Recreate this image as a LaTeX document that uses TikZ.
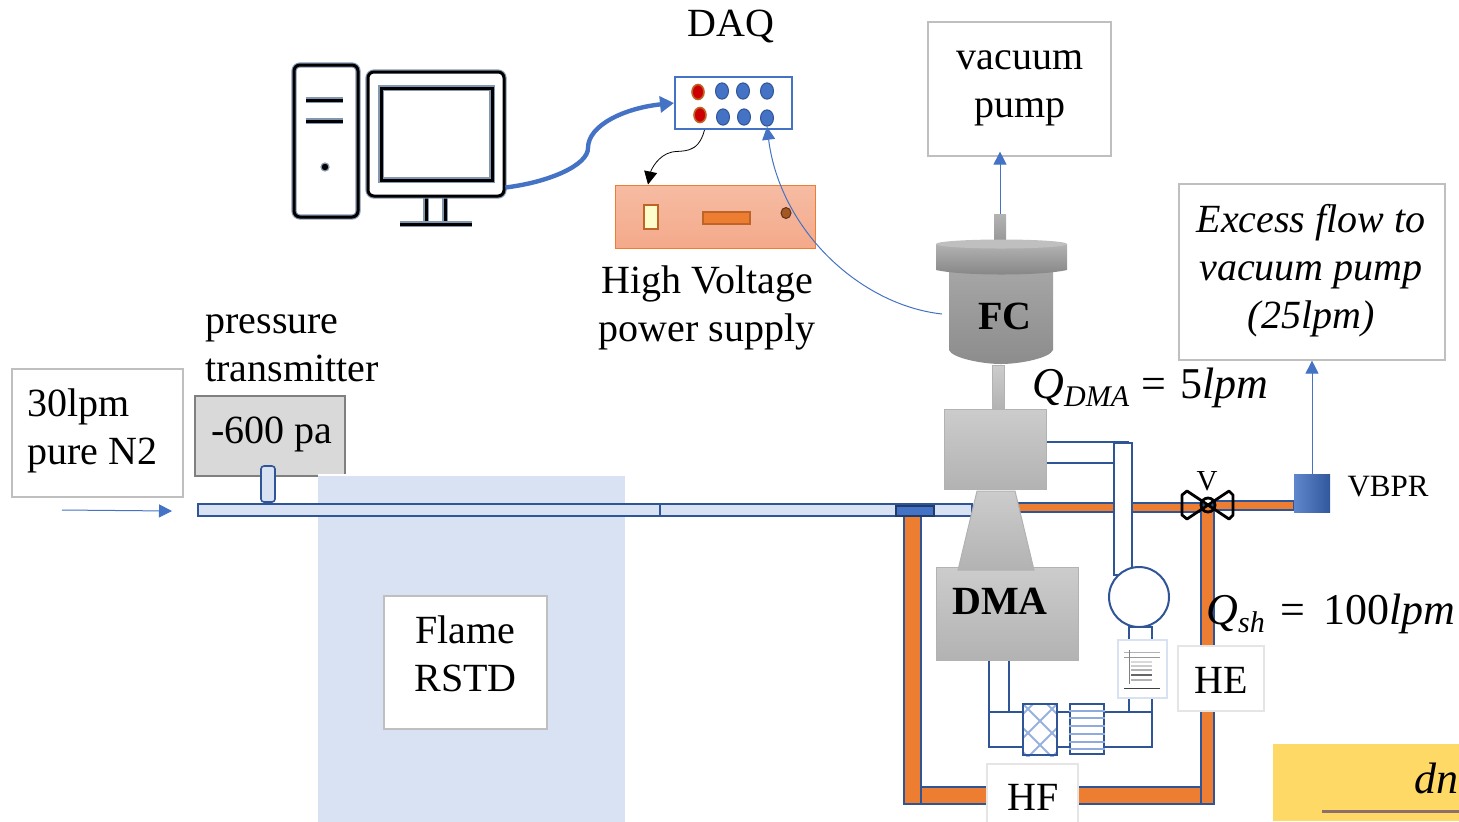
\documentclass[tikz,border=0pt]{standalone}
\usepackage{fontspec}
\setmainfont{Liberation Serif}
\usetikzlibrary{arrows.meta}
\definecolor{pipeblue}{HTML}{2F5597}
\definecolor{paleblue}{HTML}{D9E2F3}
\definecolor{flowblue}{HTML}{4472C4}
\definecolor{tubeorange}{HTML}{ED7D31}
\definecolor{halo}{HTML}{8497B0}
\definecolor{edgegray}{HTML}{BFBFBF}
\definecolor{panelyellow}{HTML}{FFD966}
\definecolor{barbrown}{HTML}{8F6F6A}
\definecolor{hvtop}{HTML}{F6BCA3}
\definecolor{hvbottom}{HTML}{F4A98A}
\newcommand{\flowsym}[1]{\textit{Q}\raisebox{-4pt}{\fontsize{15}{15}\selectfont\textit{#1}}}
\tikzset{
  txt/.style={font=\fontsize{20}{24}\selectfont, inner sep=0pt, align=center},
  flowtxt/.style={font=\fontsize{22}{24}\selectfont, inner sep=0pt, anchor=west},
  labelbox/.style={draw=edgegray, fill=white, line width=0.6pt, inner sep=0pt},
  palebox/.style={draw=black!10, fill=white, line width=0.6pt, inner sep=0pt},
  metal/.style={draw=black!30, line width=0.5pt, top color=black!20, bottom color=black!30},
  icon/.style={draw=black, rounded corners=3pt, line width=1.5pt, preaction={draw=halo, line width=2.6pt}},
  flow/.style={draw=flowblue, line width=0.5pt, -{Triangle[length=6.5pt,width=6.5pt]}},
  tube/.style={draw=pipeblue, fill=tubeorange, line width=1pt},
  pipe/.style={draw=pipeblue, fill=white, line width=1pt},
  lightpipe/.style={draw=pipeblue, fill=paleblue, line width=0.8pt},
  bluedot/.style={circle, draw=pipeblue, fill=flowblue, line width=0.5pt, inner sep=0pt, minimum width=6.5pt, yscale=1.25},
  reddot/.style={circle, draw=tubeorange!80!black, fill=red!80!black, line width=0.8pt, inner sep=0pt, minimum width=6pt, yscale=1.25},
}
\begin{document}
\begin{tikzpicture}[x=0.5pt, y=-0.5pt]
  \useasboundingbox (0,0) rectangle (1459,821);
  \clip (0,0) rectangle (1459,821);
  % flame background
  \node[fill=paleblue, draw=white, line width=1pt, inner sep=0pt, minimum width=154.5pt, minimum height=175pt] (flamebg) at (471.5,650) {};
  \node[labelbox, minimum width=81.5pt, minimum height=66.5pt] (flame) at (465.5,662.5) {};
  \node[txt] (flametext) at (465.5,654) {Flame\\RSTD};
  % computer
  \node[icon, minimum width=32pt, minimum height=76pt] (tower) at (326,141) {};
  \draw[icon] (306,100) -- (343,100);
  \draw[icon] (306,121) -- (343,121);
  \node[circle, fill=black, draw=halo, line width=0.6pt, inner sep=0pt, minimum width=4pt] (towerled) at (325,167) {};
  \draw[icon] (426,196) -- (426,224);
  \draw[icon] (445,196) -- (445,224);
  \draw[icon] (400,224) -- (472,224);
  \node[icon, fill=white, minimum width=68pt, minimum height=62pt] (monitor) at (436,134) {};
  \node[icon, rounded corners=0pt, minimum width=55.5pt, minimum height=46pt] (screen) at (436.5,134) {};
  % DAQ
  \node[txt] (daqtext) at (731,26) {DAQ};
  \node[draw=flowblue, fill=white, line width=1pt, inner sep=0pt, minimum width=58.5pt, minimum height=26pt] (daq) at (733.5,103) {};
  \foreach \x/\y in {698/92, 700/115}{
    \node[reddot] (r\x) at (\x,\y) {};
  }
  \foreach \x/\y in {722/91, 743/91, 767/91, 723/117, 744/117}{
    \node[bluedot] (b\x) at (\x,\y) {};
  }
  \node[bluedot] (port) at (767,118) {};
  % high voltage supply
  \node[draw=tubeorange, line width=0.5pt, top color=hvtop, bottom color=hvbottom, inner sep=0pt, minimum width=100pt, minimum height=31.5pt] (hv) at (715,216.5) {};
  \node[draw=tubeorange!80!black, fill=yellow!20, line width=1pt, inner sep=0pt, minimum width=7pt, minimum height=12pt] (hvswitch) at (651,217) {};
  \node[draw=tubeorange!80!black, fill=tubeorange, line width=1pt, inner sep=0pt, minimum width=23.5pt, minimum height=6pt] (hvpanel) at (726,218) {};
  \node[circle, draw=black!60!tubeorange, fill=tubeorange!70!black, line width=0.5pt, inner sep=0pt, minimum width=5pt, yscale=1.1] (hvknob) at (786,213) {};
  \node[txt] (hvtext) at (707,308) {High Voltage\\power supply};
  % inlet
  \node[labelbox, minimum width=85.5pt, minimum height=64pt] (inlet) at (97.5,433) {};
  \node[txt, align=left, anchor=west] (inlettext) at (27,431) {30lpm\\pure N2};
  \coordinate (flowstart) at (62,510);
  \coordinate (flowend) at (172,511);
  \draw[flow] (flowstart) -- (flowend);
  \node[txt, align=left, anchor=west] (ptext) at (205,348) {pressure\\transmitter};
  \node[draw=black!50, fill=black!15, line width=1pt, inner sep=0pt, minimum width=75pt, minimum height=40pt] (gauge) at (270,436) {};
  \node[txt] (gaugetext) at (272,434) {-600 pa};
  \fill[paleblue] (318,476) rectangle (347,478);
  \draw[white, line width=1pt] (318,475) -- (347,475);
  \node[draw=pipeblue, fill=paleblue, rounded corners=1.5pt, line width=0.8pt, inner sep=0pt, minimum width=7pt, minimum height=18pt] (stub) at (268,484) {};
  \node[lightpipe, inner sep=0pt, minimum width=231pt, minimum height=6pt] (pipeleft) at (429,510) {};
  % orange sheath loop
  \draw[tube] (904,516) rectangle (921,804);
  \draw[tube] (921,787) rectangle (1201,804);
  \draw[tube] (1201,505) rectangle (1214,804);
  \draw[tube] (1018,503) rectangle (1201,512);
  \draw[tube] (1214,501) rectangle (1294,510);
  \node[lightpipe, inner sep=0pt, minimum width=156pt, minimum height=6pt] (piperight) at (816,510) {};
  \node[draw=pipeblue!70!black, fill=flowblue, line width=1pt, inner sep=0pt, minimum width=19pt, minimum height=5pt] (tee) at (914.5,510.5) {};
  % excess flow branch
  \draw[pipe] (1046,442) rectangle (1114,463);
  \draw[pipe] (1114,443) rectangle (1132,575);
  \draw[draw=pipeblue, line width=1pt] (1114,442) -- (1129,442);
  \node[circle, pipe, inner sep=0pt, minimum width=30pt] (pumpball) at (1139,597) {};
  \draw[pipe] (1129,627) rectangle (1152,712);
  \draw[pipe] (989,660) rectangle (1009,712);
  \draw[pipe] (989,712) rectangle (1152,747);
  \draw[draw=pipeblue, line width=1.4pt] (1128,747) -- (1152,747) -- (1152,712);
  \node[draw=pipeblue, fill=white, line width=1pt, inner sep=0pt, minimum width=17pt, minimum height=25.5pt] (hepafilter) at (1040,729.5) {};
  \begin{scope}
    \clip (hepafilter.south west) rectangle (hepafilter.north east);
    \foreach \s in {-48, -24, 0, 24, 48}{
      \draw[flowblue!55, line width=1pt] (1023,704+\s) -- (1057,738+\s);
      \draw[flowblue!55, line width=1pt] (1057,704+\s) -- (1023,738+\s);
    }
  \end{scope}
  \node[draw=pipeblue, line width=1pt, inner sep=0pt, minimum width=17pt, minimum height=25.5pt] (hepaedge) at (1040,729.5) {};
  \node[draw=pipeblue, fill=white, line width=1pt, inner sep=0pt, minimum width=17pt, minimum height=25pt] (coalfilter) at (1087,729) {};
  \foreach \y in {711, 718, 726, 734, 742, 749}{
    \draw[flowblue!60, line width=1pt] (coalfilter.west |- 0,\y) -- (coalfilter.east |- 0,\y);
  }
  % flowmeter sheet
  \node[draw=paleblue, fill=white, line width=0.6pt, inner sep=0pt, minimum width=24.5pt, minimum height=29pt] (sheet) at (1142.5,669) {};
  \draw[black!30, line width=0.5pt] (1124,652) -- (1160,652);
  \draw[black!40, line width=0.5pt] (1124,657) -- (1160,657);
  \draw[black!50, line width=0.5pt] (1129,650) -- (1129,684);
  \foreach \y/\s in {662/15, 666/20, 670/30, 675/60, 680/30}{
    \draw[black!\s, line width=0.6pt] (1131,\y) -- (1152,\y);
  }
  \draw[black!75, line width=0.5pt] (1124,688) -- (1160,688);
  % DMA column and classifier
  \node[metal, inner sep=0pt, minimum width=6pt, minimum height=22pt] (neck) at (998,387) {};
  \node[metal, inner sep=0pt, minimum width=51pt, minimum height=40pt] (head) at (995,449) {};
  \node[metal, inner sep=0pt, minimum width=71pt, minimum height=46.5pt] (dma) at (1007,613.5) {};
  \draw[metal] (977,491) -- (1015,491) -- (1034,570) -- (958,570) -- cycle;
  \node[font=\fontsize{20}{24}\selectfont\bfseries, inner sep=0pt] (dmatext) at (1000,601) {DMA};
  % flow counter
  \node[metal, draw=none, top color=black!30, bottom color=black!40, inner sep=0pt, minimum width=6pt, minimum height=13pt] (fcstem) at (1000,227) {};
  \draw[draw=none, top color=black!35, bottom color=black!45] (949,270) -- (1053,270) -- (1053,350) .. controls (1050,358) and (1020,364) .. (1001,364) .. controls (982,364) and (952,358) .. (949,350) -- cycle;
  \draw[draw=none, top color=black!30, bottom color=black!48] (936,244) -- (1067,244) -- (1067,270) .. controls (1040,276) and (963,276) .. (936,270) -- cycle;
  \draw[draw=none, fill=black!25] (1001.5,244) ellipse (65.5 and 4.5);
  \node[font=\fontsize{20}{24}\selectfont\bfseries, inner sep=0pt] (fctext) at (1005,316) {FC};
  \coordinate (fcinlet) at (942,314);
  % vacuum pump
  \node[labelbox, minimum width=91.5pt, minimum height=67pt] (pump) at (1019.5,89) {};
  \node[txt] (pumptext) at (1020,88) {vacuum\\pump};
  \draw[flow] (fcstem.north) -- ([yshift=2.5pt]fcstem.north |- pump.south);
  % back pressure regulator and valve
  \node[draw=none, left color=flowblue!85, right color=pipeblue!90!flowblue, inner sep=0pt, minimum width=18pt, minimum height=19pt] (vbpr) at (1312,493) {};
  \node[font=\fontsize{15.5}{18}\selectfont, inner sep=0pt] (vbprtext) at (1388,487) {VBPR};
  \node[labelbox, minimum width=133pt, minimum height=88pt] (excess) at (1312,272) {};
  \node[txt, font=\fontsize{20}{24}\selectfont\itshape] (excesstext) at (1311,271) {Excess flow to\\vacuum pump\\(25lpm)};
  \draw[flow] (vbpr.north) -- (excess.south);
  \draw[black, line width=1.4pt, line join=round] (1208,505) -- (1187,491) -- (1182,495) -- (1182,515) -- (1187,519) -- cycle;
  \draw[black, line width=1.4pt, line join=round] (1208,505) -- (1229,491) -- (1233,495) -- (1233,515) -- (1229,519) -- cycle;
  \node[circle, draw=black, line width=1.4pt, inner sep=0pt, minimum width=7pt] (valve) at (1208,505) {};
  \node[font=\fontsize{14.5}{18}\selectfont, inner sep=0pt] (valvetext) at (1207,481) {V};
  % boxes on the loop
  \node[palebox, minimum width=43pt, minimum height=32.5pt] (he) at (1221,678.5) {};
  \node[txt] (hetext) at (1221,680) {HE};
  \node[palebox, minimum width=45.5pt, minimum height=35pt] (hf) at (1032.5,799) {};
  \node[txt] (hftext) at (1033,797) {HF};
  % flow labels
  \node[flowtxt] (qdma) at (1032,388) {\flowsym{DMA}\hspace{6pt}=\hspace{7pt}5\textit{lpm}};
  \node[flowtxt] (qsh) at (1206,614) {\flowsym{sh}\hspace{8pt}=\hspace{9pt}100\textit{lpm}};
  % signal lines
  \draw[flowblue, line width=2.2pt, -{Triangle[length=7pt,width=8pt]}] ([yshift=5pt]monitor.south east) .. controls (550,182) and (588,165) .. (588,148) .. controls (588,125) and (625,108) .. (daq.west);
  \draw[black, line width=0.4pt, -{Triangle[length=6.5pt,width=6.5pt]}] ([xshift=-14.5pt]daq.south) .. controls (698,155) and (682,150) .. (672,152) .. controls (658,155) and (651,170) .. ([xshift=-33.5pt]hv.north);
  \draw[flow] (fcinlet) .. controls (860,305) and (780,230) .. (port.south);
  % yellow panel
  \fill[panelyellow] (1273,744) rectangle (1459,821);
  \node[flowtxt] (dntext) at (1414,778) {\textit{dn}};
  \coordinate (barstart) at (1322,811);
  \coordinate (barend) at (1459,811);
  \draw[barbrown, line width=1.5pt] (barstart) -- (barend);
\end{tikzpicture}
\end{document}
